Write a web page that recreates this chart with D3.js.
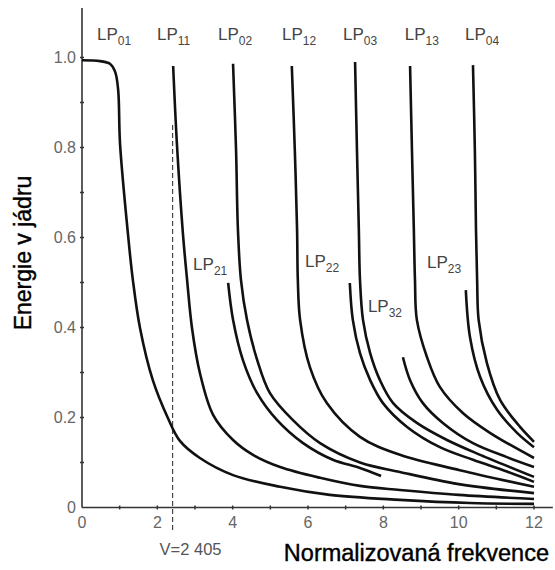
<!DOCTYPE html>
<html>
<head>
<meta charset="utf-8">
<script src="https://cdn.jsdelivr.net/npm/d3@7"></script>
<style>
  body { margin: 0; background: #fff; }
  svg { display: block; }
</style>
</head>
<body>
<div id="chart"></div>
<script>
// LP modes - fraction of energy vs normalized frequency V

const xTicks = [0, 2, 4, 6, 8, 10, 12];
const yTicks = [0, 0.2, 0.4, 0.6, 0.8, 1.0];
const yTickLabels = ['0', '0.2', '0.4', '0.6', '0.8', '1.0'];
const cutoffV = 2.405;

const lp01 = [[0, 0.994], [0.48, 0.992], [0.74, 0.986], [0.88, 0.968], [0.96, 0.928], [1.01, 0.808], [1.22, 0.608],
    [1.35, 0.506], [1.54, 0.399], [1.88, 0.283], [2.28, 0.199], [2.6, 0.148], [3.13, 0.11], [4.01, 0.072],
    [5.26, 0.046], [6.58, 0.028], [8.44, 0.017], [10.3, 0.01], [12, 0.008]];
const lp11 = [[2.42, 0.981], [2.52, 0.808], [2.68, 0.608], [2.79, 0.506], [2.92, 0.399], [3.13, 0.299], [3.48, 0.206],
    [4.01, 0.15], [4.54, 0.117], [5.26, 0.09], [6.32, 0.066], [7.38, 0.048], [8.44, 0.039], [10.0, 0.028], [12, 0.019]];
const lp21 = [[3.88, 0.499], [4.01, 0.417], [4.27, 0.328], [4.65, 0.254], [5.18, 0.194], [5.87, 0.143], [6.66, 0.106],
    [7.38, 0.088], [7.94, 0.07]];
const lp02 = [[4.01, 0.986], [4.09, 0.794], [4.14, 0.617], [4.22, 0.506], [4.38, 0.417], [4.65, 0.328], [4.99, 0.254],
    [5.6, 0.194], [6.32, 0.143], [7.38, 0.1], [8.44, 0.079], [10.0, 0.052], [12, 0.032]];
const lp12 = [[5.57, 0.981], [5.65, 0.794], [5.71, 0.617], [5.73, 0.506], [5.79, 0.417], [6.05, 0.312], [6.5, 0.232],
    [7.38, 0.157], [8.44, 0.117], [10.03, 0.083], [12, 0.046]];
const lp22 = [[7.11, 0.499], [7.19, 0.417], [7.38, 0.343], [7.65, 0.283], [7.99, 0.232], [8.63, 0.179], [9.5, 0.134],
    [10.38, 0.106], [11.28, 0.08], [12, 0.057]];
const lp03 = [[7.25, 0.99], [7.3, 0.794], [7.35, 0.617], [7.38, 0.506], [7.46, 0.417], [7.65, 0.343], [7.91, 0.283],
    [8.26, 0.232], [8.89, 0.188], [9.69, 0.15], [10.57, 0.117], [12, 0.068]];
const lp32 = [[8.52, 0.334], [8.71, 0.283], [9.05, 0.232], [9.58, 0.188], [10.38, 0.143], [11.28, 0.112], [12, 0.09]];
const lp13 = [[8.71, 0.981], [8.76, 0.794], [8.81, 0.617], [8.84, 0.506], [8.89, 0.417], [9.16, 0.334], [9.5, 0.268],
    [10.11, 0.21], [10.83, 0.166], [12, 0.11]];
const lp23 = [[10.19, 0.483], [10.3, 0.379], [10.57, 0.29], [11.02, 0.217], [11.55, 0.166], [12, 0.134]];
const lp04 = [[10.38, 0.983], [10.43, 0.794], [10.46, 0.617], [10.49, 0.506], [10.53, 0.417], [10.75, 0.321],
    [11.1, 0.239], [11.63, 0.179], [12, 0.146]];

const curves = [lp01, lp11, lp21, lp02, lp12, lp22, lp03, lp32, lp13, lp23, lp04];

// mode labels: subscript + anchor (data coords)
const labelNames = ['01', '11', '02', '12', '03', '13', '04', '21', '22', '23', '32'];
const labelX = [0.40, 1.99, 3.61, 5.31, 6.93, 8.57, 10.17, 2.95, 5.92, 9.16, 7.59];
const labelY = [1.039, 1.039, 1.039, 1.039, 1.039, 1.039, 1.039, 0.528, 0.534, 0.532, 0.434];

const width = 555, height = 570;

const svg = d3.select('#chart')
    .append('svg')
    .attr('width', width)
    .attr('height', height);

const x = d3.scaleLinear().domain([0, 12]).range([82, 534]);
const y = d3.scaleLinear().domain([0, 1]).range([507.5, 57.5]);

const axisColor = '#333';
const tickFont = '"Liberation Sans", Arial, sans-serif';

// axes lines
svg.append('line')
    .attr('x1', x(0)).attr('x2', x(12.5))
    .attr('y1', y(0)).attr('y2', y(0))
    .attr('stroke', axisColor).attr('stroke-width', 1.6);
svg.append('line')
    .attr('x1', x(0)).attr('x2', x(0))
    .attr('y1', y(0)).attr('y2', y(1.11))
    .attr('stroke', axisColor).attr('stroke-width', 1.6);

// small tick marks crossing axes
svg.append('g')
    .selectAll('line')
    .data(d3.range(1, 13))
    .enter()
    .append('line')
    .attr('x1', d => x(d)).attr('x2', d => x(d))
    .attr('y1', y(0) - 2).attr('y2', y(0) + 2)
    .attr('stroke', axisColor).attr('stroke-width', 1.5);
svg.append('g')
    .selectAll('line')
    .data(d3.range(1, 11).map(d => d / 10))
    .enter()
    .append('line')
    .attr('x1', x(0) - 2).attr('x2', x(0) + 2)
    .attr('y1', d => y(d)).attr('y2', d => y(d))
    .attr('stroke', axisColor).attr('stroke-width', 1.5);

// tick labels
svg.append('g')
    .selectAll('text')
    .data(xTicks)
    .enter()
    .append('text')
    .attr('x', d => x(d))
    .attr('y', 528)
    .attr('text-anchor', 'middle')
    .attr('font-family', tickFont)
    .attr('font-size', 16)
    .attr('fill', '#666')
    .text(d => d);
svg.append('g')
    .selectAll('text')
    .data(yTicks)
    .enter()
    .append('text')
    .attr('x', 76)
    .attr('y', d => y(d))
    .attr('dy', '0.35em')
    .attr('text-anchor', 'end')
    .attr('font-family', tickFont)
    .attr('font-size', 16)
    .attr('fill', '#666')
    .text((d, i) => yTickLabels[i]);

// cutoff line V=2.405
svg.append('line')
    .attr('x1', x(cutoffV)).attr('x2', x(cutoffV))
    .attr('y1', y(0.85)).attr('y2', y(-0.055))
    .attr('stroke', '#444')
    .attr('stroke-width', 1.2)
    .attr('stroke-dasharray', '5,3');
svg.append('text')
    .attr('x', x(cutoffV) + 18)
    .attr('y', 555)
    .attr('text-anchor', 'middle')
    .attr('font-family', tickFont)
    .attr('font-size', 16.5)
    .attr('fill', '#555')
    .text('V=2 405');

// curves
const line = d3.line()
    .x(d => x(d[0]))
    .y(d => y(d[1]))
    .curve(d3.curveCatmullRom.alpha(0.5));

svg.append('g')
    .selectAll('path')
    .data(curves)
    .enter()
    .append('path')
    .attr('d', line)
    .attr('fill', 'none')
    .attr('stroke', '#111')
    .attr('stroke-width', 2.6);

// mode labels
const lbl = svg.append('g')
    .selectAll('text')
    .data(labelNames)
    .enter()
    .append('text')
    .attr('x', (d, i) => x(labelX[i]))
    .attr('y', (d, i) => y(labelY[i]))
    .attr('font-family', tickFont)
    .attr('font-size', 17)
    .attr('fill', '#444');
lbl.append('tspan').text('LP');
lbl.append('tspan')
    .attr('dy', 5)
    .attr('font-size', 12)
    .text(d => d);

// axis titles
svg.append('text')
    .attr('x', 549)
    .attr('y', 561)
    .attr('text-anchor', 'end')
    .attr('font-family', '"Liberation Sans", Arial, sans-serif')
    .attr('font-size', 23.5)
    .attr('fill', '#000')
    .attr('stroke', '#000')
    .attr('stroke-width', 0.4)
    .text('Normalizovaná frekvence');
svg.append('text')
    .attr('transform', 'translate(31,253) rotate(-90)')
    .attr('text-anchor', 'middle')
    .attr('font-family', '"Liberation Sans", Arial, sans-serif')
    .attr('font-size', 23)
    .attr('fill', '#000')
    .attr('stroke', '#000')
    .attr('stroke-width', 0.4)
    .text('Energie v jádru');
</script>
</body>
</html>
